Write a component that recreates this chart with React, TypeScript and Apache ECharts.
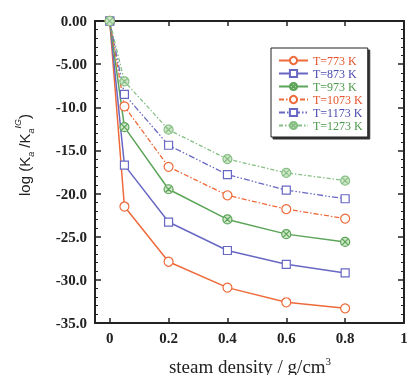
import { useEffect, useRef } from 'react';
import * as echarts from 'echarts';

const density = [0, 0.05, 0.2, 0.4, 0.6, 0.8];
const seriesNames = ['T=773 K', 'T=873 K', 'T=973 K', 'T=1073 K', 'T=1173 K', 'T=1273 K'];
const v773 = [0, -21.5, -27.9, -30.9, -32.6, -33.3];
const v873 = [0, -16.7, -23.3, -26.6, -28.2, -29.2];
const v973 = [0, -12.3, -19.5, -23.0, -24.7, -25.6];
const v1073 = [0, -9.9, -16.9, -20.2, -21.8, -22.9];
const v1173 = [0, -8.5, -14.4, -17.8, -19.6, -20.6];
const v1273 = [0, -7.0, -12.6, -16.0, -17.6, -18.5];
const xTicks = [0, 0.2, 0.4, 0.6, 0.8, 1];

const ORANGE = '#EE6A3A';
const BLUE = '#6868C4';
const GREEN = '#5BA458';
const GREEN_L = '#86BF84';

const crossCircle =
  'path://M2,12A10,10,0,1,1,22,12A10,10,0,1,1,2,12ZM4.9,4.9L19.1,19.1M19.1,4.9L4.9,19.1';

const SERIF = '"Liberation Serif", "Times New Roman", serif';
const SANS = '"Liberation Sans", Arial, sans-serif';

export default function App() {
  const ref = useRef<HTMLDivElement>(null);
  useEffect(() => {
    if (!ref.current) return;
    const chart = echarts.init(ref.current, undefined, { renderer: 'svg' });
    const values = [v773, v873, v973, v1073, v1173, v1273];
    const colors = [ORANGE, BLUE, GREEN, ORANGE, BLUE, GREEN_L];
    const textColors = ['#E5532A', '#4A4AAE', '#4C984A', '#E5532A', '#4A4AAE', '#4C984A'];
    const symbols = ['circle', 'rect', crossCircle, 'circle', 'rect', crossCircle];
    const fills = ['#fff', '#fff', '#CFE6C8', '#fff', '#fff', '#CFE6C8'];
    const dashes: any[] = ['solid', 'solid', 'solid', [5, 2, 1.5, 2], [6, 2, 1.5, 2, 1.5, 2], [4, 2, 1.5, 2]];
    const series = values.map((vals, i) => ({
      name: seriesNames[i],
      type: 'line',
      data: density.map((d, j) => [d, vals[j]]),
      symbol: symbols[i],
      symbolSize: i % 3 === 1 ? 8 : 9,
      showAllSymbol: true,
      lineStyle: { color: colors[i], width: i < 3 ? 1.5 : 1.3, type: dashes[i] },
      itemStyle: { color: fills[i], borderColor: colors[i], borderWidth: 1.2 },
      z: 2 + i,
    }));
    const axisLine = { show: true, onZero: false, lineStyle: { color: '#222', width: 2 } };
    chart.setOption({
      animation: false,
      grid: { left: 95, top: 21, right: 7, bottom: 52 },
      legend: {
        left: 271,
        top: 48,
        orient: 'vertical',
        padding: [6, 5, 5, 7],
        itemWidth: 29,
        itemHeight: 9,
        itemGap: 0,
        backgroundColor: '#fff',
        borderColor: '#222',
        borderWidth: 1,
        shadowColor: '#333',
        shadowOffsetX: 2,
        shadowOffsetY: 2,
        shadowBlur: 0,
        textStyle: { fontFamily: SERIF, fontSize: 12, lineHeight: 13 },
        data: seriesNames.map((n, i) => ({ name: n, textStyle: { color: textColors[i] } })),
      },
      xAxis: [
        {
          type: 'value',
          min: -0.05,
          max: 1,
          position: 'bottom',
          axisLine,
          axisTick: { show: true, inside: true, length: 5, customValues: xTicks, lineStyle: { color: '#222', width: 1.5 } },
          axisLabel: {
            customValues: xTicks,
            showMinLabel: true,
            showMaxLabel: true,
            hideOverlap: false,
            margin: 7,
            formatter: (v: number) => (v === 0 ? '0' : v === 1 ? '1' : v.toFixed(1)),
            fontFamily: SERIF,
            fontSize: 15,
            fontWeight: 'bold',
            color: '#222',
          },
          splitLine: { show: false },
        },
        {
          type: 'value',
          min: -0.05,
          max: 1,
          position: 'top',
          axisLine,
          axisTick: { show: true, inside: true, length: 5, customValues: xTicks, lineStyle: { color: '#222', width: 1.5 } },
          axisLabel: { show: false },
          splitLine: { show: false },
        },
      ],
      yAxis: [
        {
          type: 'value',
          min: -35,
          max: 0,
          interval: 5,
          position: 'left',
          axisLine,
          axisTick: { show: true, inside: true, length: 6, lineStyle: { color: '#222', width: 1.5 } },
          minorTick: { show: true, splitNumber: 5, length: 3, lineStyle: { color: '#222', width: 1 } },
          axisLabel: {
            margin: 8,
            showMinLabel: true,
            showMaxLabel: true,
            formatter: (v: number) => (v === 0 ? '0.00' : v === -5 ? '-5.00' : v.toFixed(1)),
            fontFamily: SERIF,
            fontSize: 15,
            fontWeight: 'bold',
            color: '#222',
          },
          splitLine: { show: false },
        },
        {
          type: 'value',
          min: -35,
          max: 0,
          interval: 5,
          position: 'right',
          axisLine,
          axisTick: { show: true, inside: true, length: 6, lineStyle: { color: '#222', width: 1.5 } },
          minorTick: { show: true, splitNumber: 5, length: 3, lineStyle: { color: '#222', width: 1 } },
          axisLabel: { show: false },
          splitLine: { show: false },
        },
      ],
      graphic: [
        {
          type: 'text',
          x: 24,
          y: 155,
          rotation: Math.PI / 2,
          style: {
            text: '{m|log (K}{s|a}{m| /K}{s|a}{u|IG}{m|)}',
            align: 'center',
            verticalAlign: 'middle',
            fill: '#222',
            rich: {
              m: { fontFamily: SANS, fontSize: 15, lineHeight: 22, verticalAlign: 'middle', fill: '#222' },
              s: { fontFamily: SANS, fontSize: 9, fontStyle: 'italic', lineHeight: 9, verticalAlign: 'bottom', fill: '#222' },
              u: { fontFamily: SANS, fontSize: 9, fontStyle: 'italic', lineHeight: 9, verticalAlign: 'top', fill: '#222' },
            },
          },
        },
        {
          type: 'text',
          x: 250,
          y: 366,
          style: {
            text: '{m|steam density / g/cm}{u|3}',
            align: 'center',
            verticalAlign: 'middle',
            fill: '#222',
            rich: {
              m: { fontFamily: SERIF, fontSize: 19, lineHeight: 22, verticalAlign: 'middle', fill: '#222' },
              u: { fontFamily: SERIF, fontSize: 11, lineHeight: 11, verticalAlign: 'top', fill: '#222' },
            },
          },
        },
      ],
      series,
    });
    return () => chart.dispose();
  }, []);
  return (
    <div
      ref={ref}
      style={{ position: 'fixed', left: 0, top: 0, width: 411, height: 375, overflow: 'hidden' }}
    />
  );
}
